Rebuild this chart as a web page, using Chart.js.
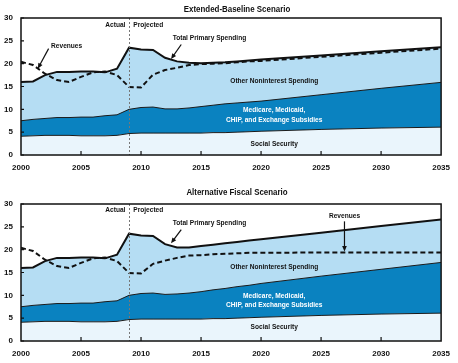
<!DOCTYPE html>
<html>
<head>
<meta charset="utf-8">
<script src="https://cdn.jsdelivr.net/npm/chart.js@4.4.0/dist/chart.umd.min.js"></script>
<style>
    body { margin: 0; background: #fff; }
    #wrap { position: relative; width: 458px; height: 363px; }
    canvas { position: absolute; left: 0; }
</style>
</head>
<body>
<div id="wrap">
    <canvas id="topChart" width="458" height="181" style="top:0"></canvas>
    <canvas id="bottomChart" width="458" height="182" style="top:181px"></canvas>
</div>
<script>
// years (yearly to 2020, then every 5 years)
const years = [2000, 2001, 2002, 2003, 2004, 2005, 2006, 2007, 2008, 2009, 2010,
    2011, 2012, 2013, 2014, 2015, 2016, 2017, 2018, 2019, 2020, 2025, 2030, 2035];

const xTicks = [2000, 2005, 2010, 2015, 2020, 2025, 2030, 2035];
const yTicks = [0, 5, 10, 15, 20, 25, 30];

// percent of GDP, levels of each stacked band's top edge
const socialSecurity = [4.1, 4.2, 4.3, 4.3, 4.3, 4.2, 4.2, 4.2, 4.3, 4.7, 4.8,
    4.8, 4.8, 4.8, 4.8, 4.8, 4.9, 4.9, 5.0, 5.1, 5.2, 5.6, 5.9, 6.1];

// Extended-Baseline Scenario
const baseHealthTop = [7.5, 7.8, 8.0, 8.2, 8.2, 8.3, 8.3, 8.6, 8.8, 10.0, 10.4,
    10.5, 10.1, 10.1, 10.3, 10.6, 10.9, 11.2, 11.4, 11.6, 11.8, 13.2, 14.6, 15.9];
const baseTotal = [16.0, 16.1, 17.5, 18.2, 18.2, 18.3, 18.3, 18.1, 18.9, 23.5, 23.1,
    23.0, 21.3, 20.5, 20.2, 20.1, 20.2, 20.3, 20.5, 20.7, 20.9, 21.8, 22.7, 23.6];
const baseRevenues = [20.4, 19.7, 17.8, 16.4, 16.0, 17.1, 18.1, 18.3, 17.5, 14.9, 14.8,
    17.6, 18.6, 19.1, 19.7, 19.9, 20.0, 20.1, 20.3, 20.5, 20.6, 21.5, 22.4, 23.3];

// Alternative Fiscal Scenario
const altHealthTop = [7.5, 7.8, 8.0, 8.2, 8.2, 8.3, 8.3, 8.6, 8.8, 10.0, 10.4,
    10.5, 10.2, 10.3, 10.5, 10.8, 11.2, 11.5, 11.9, 12.2, 12.6, 14.2, 15.7, 17.2];
const altTotal = [16.0, 16.1, 17.5, 18.2, 18.2, 18.3, 18.3, 18.1, 18.9, 23.5, 23.1,
    23.0, 21.2, 20.5, 20.5, 20.8, 21.1, 21.4, 21.7, 22.0, 22.3, 23.7, 25.2, 26.6];
const altRevenues = [20.4, 19.7, 17.8, 16.4, 16.0, 17.1, 18.1, 18.3, 17.5, 14.9, 14.8,
    16.9, 17.6, 18.2, 18.7, 18.8, 19.0, 19.1, 19.2, 19.3, 19.3, 19.4, 19.4, 19.4];

const FONT = "'Liberation Sans', Arial, sans-serif";
const SQUEEZE = 0.88; // the original uses a condensed face

function pts(arr) {
    return years.map((y, i) => ({ x: y, y: arr[i] }));
}

function narrowText(c, text, x, y, align) {
    c.save();
    c.translate(x, y);
    c.scale(SQUEEZE, 1);
    c.textAlign = align || 'center';
    c.fillText(text, 0, 0);
    c.restore();
}

const notesPlugin = {
    id: 'notes',
    afterDraw(chart, args, opts) {
        const c = chart.ctx;
        const a = chart.chartArea;
        const xs = chart.scales.x;
        const ys = chart.scales.y;

        c.save();
        // dotted actual/projected divider
        c.strokeStyle = '#777';
        c.lineWidth = 1;
        c.setLineDash([2, 2]);
        const dx = Math.round(xs.getPixelForValue(2009)) + 0.5;
        c.beginPath();
        c.moveTo(dx, a.top);
        c.lineTo(dx, a.bottom);
        c.stroke();
        c.setLineDash([]);

        // frame and inward ticks
        c.strokeStyle = '#111';
        c.lineWidth = 1.5;
        c.strokeRect(a.left, a.top, a.right - a.left, a.bottom - a.top);
        c.lineWidth = 1.2;
        c.beginPath();
        yTicks.forEach(v => {
            const py = ys.getPixelForValue(v);
            c.moveTo(a.left, py);
            c.lineTo(a.left + 3, py);
        });
        xTicks.slice(1, -1).forEach(v => {
            const px = xs.getPixelForValue(v);
            c.moveTo(px, a.bottom);
            c.lineTo(px, a.bottom - 4);
        });
        c.stroke();

        // title
        c.fillStyle = '#111';
        c.textBaseline = 'middle';
        c.font = 'bold 9px ' + FONT;
        narrowText(c, opts.title, 237, opts.titleY);

        // labels
        c.font = 'bold 7.5px ' + FONT;
        opts.texts.forEach(t => {
            c.fillStyle = t.color || '#111';
            narrowText(c, t.text, xs.getPixelForValue(t.x), ys.getPixelForValue(t.y), t.align);
        });

        // arrows
        c.strokeStyle = '#111';
        c.fillStyle = '#111';
        c.lineWidth = 1.2;
        opts.arrows.forEach(r => {
            const x1 = xs.getPixelForValue(r[0]), y1 = ys.getPixelForValue(r[1]);
            const x2 = xs.getPixelForValue(r[2]), y2 = ys.getPixelForValue(r[3]);
            const ang = Math.atan2(y2 - y1, x2 - x1);
            c.beginPath();
            c.moveTo(x1, y1);
            c.lineTo(x2 - 3 * Math.cos(ang), y2 - 3 * Math.sin(ang));
            c.stroke();
            c.beginPath();
            c.moveTo(x2, y2);
            c.lineTo(x2 - 6 * Math.cos(ang - 0.4), y2 - 6 * Math.sin(ang - 0.4));
            c.lineTo(x2 - 6 * Math.cos(ang + 0.4), y2 - 6 * Math.sin(ang + 0.4));
            c.closePath();
            c.fill();
        });
        c.restore();
    }
};

function makeChart(id, health, total, revenues, padTop, xHeight, notes) {
    new Chart(document.getElementById(id), {
        type: 'line',
        data: {
            datasets: [
                {
                    label: 'Social Security',
                    data: pts(socialSecurity),
                    borderColor: '#1a1a1a',
                    borderWidth: 1,
                    backgroundColor: '#eaf5fc',
                    fill: 'origin'
                },
                {
                    label: 'Medicare, Medicaid, CHIP, and Exchange Subsidies',
                    data: pts(health),
                    borderColor: '#1a1a1a',
                    borderWidth: 1,
                    backgroundColor: '#0a82c0',
                    fill: '-1'
                },
                {
                    label: 'Total Primary Spending',
                    data: pts(total),
                    borderColor: '#111',
                    borderWidth: 2,
                    backgroundColor: '#b5ddf3',
                    fill: '-1'
                },
                {
                    label: 'Revenues',
                    data: pts(revenues),
                    borderColor: '#111',
                    borderWidth: 2,
                    borderDash: [5, 3],
                    fill: false
                }
            ]
        },
        options: {
            responsive: false,
            animation: false,
            elements: { point: { radius: 0 }, line: { tension: 0 } },
            layout: { padding: { top: padTop, right: 15, left: 0, bottom: 0 } },
            plugins: {
                legend: { display: false },
                tooltip: { enabled: false },
                filler: { drawTime: 'beforeDatasetsDraw' },
                notes: notes
            },
            scales: {
                x: {
                    type: 'linear',
                    min: 2000,
                    max: 2035,
                    afterBuildTicks: s => { s.ticks = xTicks.map(v => ({ value: v })); },
                    afterFit: s => { s.height = xHeight; },
                    grid: { display: false, drawTicks: false },
                    border: { display: false },
                    ticks: {
                        padding: 8,
                        color: '#111',
                        maxRotation: 0,
                        font: { family: FONT, size: 8, weight: 'bold' },
                        callback: v => String(v)
                    }
                },
                y: {
                    min: 0,
                    max: 30,
                    afterBuildTicks: s => { s.ticks = yTicks.map(v => ({ value: v })); },
                    afterFit: s => { s.width = 21; },
                    grid: { display: false, drawTicks: false },
                    border: { display: false },
                    ticks: {
                        padding: 8,
                        color: '#111',
                        font: { family: FONT, size: 8, weight: 'bold' }
                    }
                }
            }
        },
        plugins: [notesPlugin]
    });
}

makeChart('topChart', baseHealthTop, baseTotal, baseRevenues, 18, 26, {
    title: 'Extended-Baseline Scenario',
    titleY: 10,
    texts: [
        { text: 'Actual', x: 2008.7, y: 28.4, align: 'right' },
        { text: 'Projected', x: 2009.35, y: 28.4, align: 'left' },
        { text: 'Revenues', x: 2003.8, y: 23.9 },
        { text: 'Total Primary Spending', x: 2015.7, y: 25.7 },
        { text: 'Other Noninterest Spending', x: 2021.1, y: 16.15 },
        { text: 'Medicare, Medicaid,', x: 2021.1, y: 9.8, color: '#fff' },
        { text: 'CHIP, and Exchange Subsidies', x: 2021.1, y: 7.6, color: '#fff' },
        { text: 'Social Security', x: 2021.1, y: 2.4 }
    ],
    arrows: [
        [2002.3, 23.3, 2001.4, 18.9],
        [2013.35, 24.2, 2012.5, 21.0]
    ]
});

makeChart('bottomChart', altHealthTop, altTotal, altRevenues, 23, 22, {
    title: 'Alternative Fiscal Scenario',
    titleY: 12,
    texts: [
        { text: 'Actual', x: 2008.7, y: 28.6, align: 'right' },
        { text: 'Projected', x: 2009.35, y: 28.6, align: 'left' },
        { text: 'Revenues', x: 2026.95, y: 27.4 },
        { text: 'Total Primary Spending', x: 2015.7, y: 25.8 },
        { text: 'Other Noninterest Spending', x: 2021.1, y: 16.2 },
        { text: 'Medicare, Medicaid,', x: 2021.1, y: 9.8, color: '#fff' },
        { text: 'CHIP, and Exchange Subsidies', x: 2021.1, y: 7.8, color: '#fff' },
        { text: 'Social Security', x: 2021.1, y: 3.0 }
    ],
    arrows: [
        [2026.95, 26.2, 2026.95, 19.6],
        [2013.35, 24.4, 2012.5, 21.4]
    ]
});
</script>
</body>
</html>
